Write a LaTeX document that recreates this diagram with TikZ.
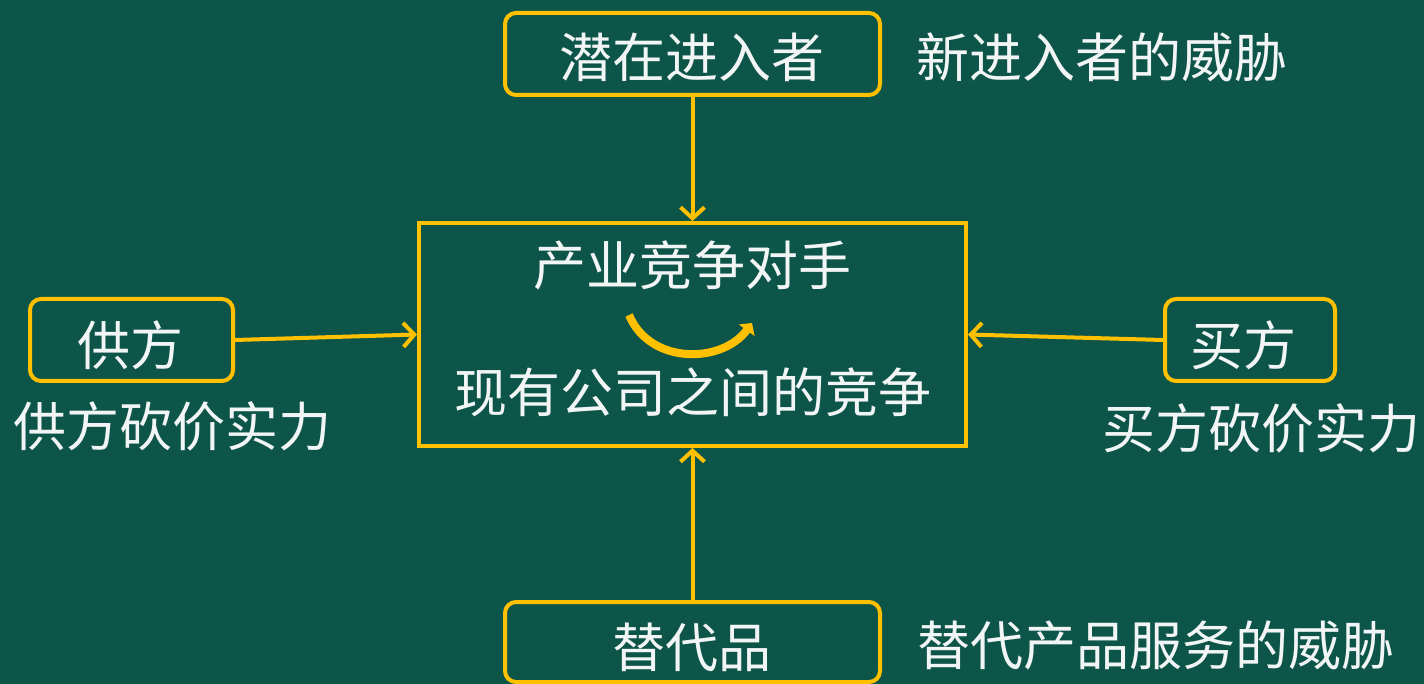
\documentclass[tikz,border=0pt]{standalone}
\usepackage{fontspec}
\newfontfamily\cjk{Noto Sans CJK SC}
\usetikzlibrary{arrows.meta}
\definecolor{bgGreen}{RGB}{13,84,73}
\definecolor{gold}{RGB}{255,192,0}
\definecolor{txt}{RGB}{242,245,245}
\tikzset{
  rbox/.style={draw=gold, line width=4pt, rounded corners=11pt, inner sep=0pt, text=txt,
    font=\cjk\fontsize{53}{53}\selectfont},
  cbox/.style={draw=gold, line width=4pt, inner sep=0pt},
  lbl/.style={text=txt, inner sep=0pt, font=\cjk\fontsize{53}{53}\selectfont},
  conn/.style={draw=gold, line width=4pt, -{Straight Barb[length=11pt,width=24pt,line width=4pt]}},
}
\begin{document}
\begin{tikzpicture}[x=1pt,y=-1pt]
\fill[bgGreen] (0,0) rectangle (1424,684);
\useasboundingbox (0,0) rectangle (1424,684);
% boxes
\node[rbox, minimum width=375pt, minimum height=82pt] (ent) at (692.5,54) {};
\node[cbox, minimum width=547pt, minimum height=223pt] (comp) at (692.5,334.5) {};
\node[rbox, minimum width=203pt, minimum height=82pt] (sup) at (131.5,340) {};
\node[rbox, minimum width=170pt, minimum height=82pt] (buy) at (1250,340) {};
\node[rbox, minimum width=375pt, minimum height=80pt] (sub) at (692.5,642) {};
% box texts
\node[lbl] (e1) at (692,57) {潜在进入者};
\node[lbl] (s1) at (130,345) {供方};
\node[lbl] (b1) at (1243,345) {买方};
\node[lbl] (u1) at (692,647) {替代品};
% texts in center box
\node[lbl] (t1) at (692.5,265) {产业竞争对手};
\node[lbl] (t2) at (692.5,392) {现有公司之间的竞争};
% side labels
\node[lbl] (l1) at (1102,57) {新进入者的威胁};
\node[lbl] (l2) at (172,426) {供方砍价实力};
\node[lbl] (l3) at (1261,428) {买方砍价实力};
\node[lbl] (l4) at (1156,645) {替代产品服务的威胁};
% connectors
\draw[conn] (ent.south) -- (comp.north);
\draw[conn] (sub.north) -- (comp.south);
\draw[conn] (sup.east) -- (comp.west);
\draw[conn] (buy.west) -- (comp.east);
% curved mutual arrow
\coordinate (ca) at (629,315);
\coordinate (cb) at (752,323);
\draw[gold, line width=8pt, -{Triangle[length=9pt,width=19pt]}]
  (ca) .. controls (650,365) and (722,364) .. (cb);
\end{tikzpicture}
\end{document}
